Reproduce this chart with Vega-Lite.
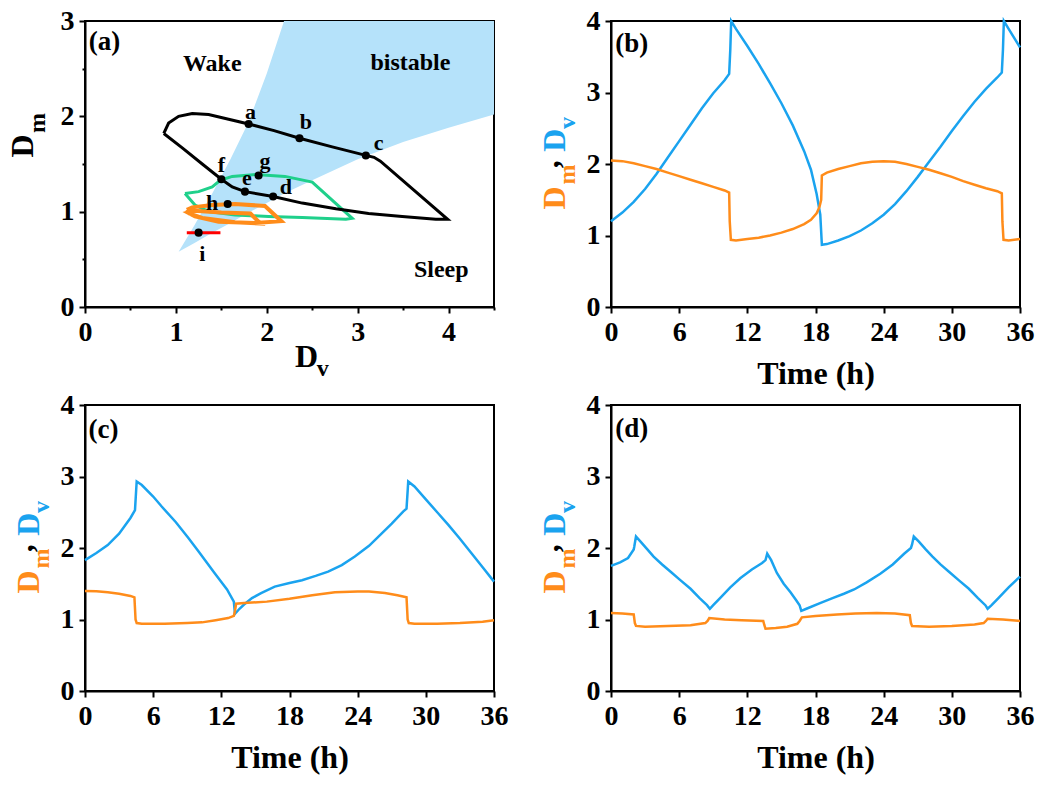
{
  "$schema": "https://vega.github.io/schema/vega-lite/v6.json",
  "padding": {"left": 6, "top": 6, "right": 5, "bottom": 5},
  "background": "white",
  "config": {
    "font": "Liberation Serif",
    "view": {"stroke": "black", "strokeWidth": 2},
    "axis": {
      "labelFont": "Liberation Serif", "labelFontSize": 28, "labelFontWeight": "bold", "labelColor": "black",
      "titleFont": "Liberation Serif", "titleFontSize": 32, "titleFontWeight": "bold", "titleColor": "black",
      "domainColor": "black", "domainWidth": 2, "tickColor": "black", "tickWidth": 2,
      "grid": false, "labelFlush": false, "labelPadding": 5, "labelOverlap": false
    }
  },
  "datasets": {
    "wedge": [
      {"x": 1.03, "lo": 0.58, "hi": 0.58},
      {"x": 1.2, "lo": 0.67, "hi": 0.85},
      {"x": 1.4, "lo": 0.78, "hi": 1.19},
      {"x": 1.6, "lo": 0.88, "hi": 1.55},
      {"x": 1.8, "lo": 0.99, "hi": 1.94},
      {"x": 2.0, "lo": 1.09, "hi": 2.45},
      {"x": 2.19, "lo": 1.19, "hi": 3.0},
      {"x": 2.5, "lo": 1.33, "hi": 3.0},
      {"x": 3.0, "lo": 1.55, "hi": 3.0},
      {"x": 3.5, "lo": 1.73, "hi": 3.0},
      {"x": 4.0, "lo": 1.88, "hi": 3.0},
      {"x": 4.5, "lo": 2.02, "hi": 3.0}
    ],
    "loops": [
      {"loop": "black", "i": 1, "x": 0.867, "y": 1.82},
      {"loop": "black", "i": 2, "x": 0.92, "y": 1.93},
      {"loop": "black", "i": 3, "x": 1.03, "y": 2.0},
      {"loop": "black", "i": 4, "x": 1.18, "y": 2.03},
      {"loop": "black", "i": 5, "x": 1.36, "y": 2.02},
      {"loop": "black", "i": 6, "x": 1.58, "y": 1.97},
      {"loop": "black", "i": 7, "x": 1.8, "y": 1.92},
      {"loop": "black", "i": 8, "x": 2.08, "y": 1.85},
      {"loop": "black", "i": 9, "x": 2.36, "y": 1.77},
      {"loop": "black", "i": 10, "x": 2.72, "y": 1.68},
      {"loop": "black", "i": 11, "x": 3.09, "y": 1.59},
      {"loop": "black", "i": 12, "x": 3.18, "y": 1.57},
      {"loop": "black", "i": 13, "x": 3.25, "y": 1.53},
      {"loop": "black", "i": 14, "x": 3.99, "y": 0.92},
      {"loop": "black", "i": 15, "x": 3.86, "y": 0.92},
      {"loop": "black", "i": 16, "x": 3.49, "y": 0.95},
      {"loop": "black", "i": 17, "x": 3.12, "y": 0.98},
      {"loop": "black", "i": 18, "x": 2.76, "y": 1.03},
      {"loop": "black", "i": 19, "x": 2.39, "y": 1.09},
      {"loop": "black", "i": 20, "x": 2.07, "y": 1.16},
      {"loop": "black", "i": 21, "x": 1.76, "y": 1.21},
      {"loop": "black", "i": 22, "x": 1.62, "y": 1.26},
      {"loop": "black", "i": 23, "x": 1.5, "y": 1.34},
      {"loop": "black", "i": 24, "x": 1.29, "y": 1.5},
      {"loop": "black", "i": 25, "x": 1.07, "y": 1.67},
      {"loop": "black", "i": 26, "x": 0.867, "y": 1.82},
      {"loop": "green", "i": 1, "x": 1.1, "y": 1.19},
      {"loop": "green", "i": 2, "x": 1.25, "y": 1.21},
      {"loop": "green", "i": 3, "x": 1.4, "y": 1.26},
      {"loop": "green", "i": 4, "x": 1.49, "y": 1.33},
      {"loop": "green", "i": 5, "x": 1.62, "y": 1.37},
      {"loop": "green", "i": 6, "x": 1.88, "y": 1.39},
      {"loop": "green", "i": 7, "x": 2.2, "y": 1.37},
      {"loop": "green", "i": 8, "x": 2.5, "y": 1.31},
      {"loop": "green", "i": 9, "x": 2.94, "y": 0.93},
      {"loop": "green", "i": 10, "x": 2.87, "y": 0.92},
      {"loop": "green", "i": 11, "x": 2.39, "y": 0.94},
      {"loop": "green", "i": 12, "x": 2.02, "y": 0.95},
      {"loop": "green", "i": 13, "x": 1.65, "y": 0.965},
      {"loop": "green", "i": 14, "x": 1.36, "y": 1.0},
      {"loop": "green", "i": 15, "x": 1.21, "y": 1.07},
      {"loop": "green", "i": 16, "x": 1.1, "y": 1.19},
      {"loop": "orange", "i": 1, "x": 1.12, "y": 1.02},
      {"loop": "orange", "i": 2, "x": 1.18, "y": 1.045},
      {"loop": "orange", "i": 3, "x": 1.4, "y": 1.07},
      {"loop": "orange", "i": 4, "x": 1.65, "y": 1.08},
      {"loop": "orange", "i": 5, "x": 1.98, "y": 1.06},
      {"loop": "orange", "i": 6, "x": 2.16, "y": 0.9},
      {"loop": "orange", "i": 7, "x": 1.87, "y": 0.88},
      {"loop": "orange", "i": 8, "x": 1.47, "y": 0.895},
      {"loop": "orange", "i": 9, "x": 1.21, "y": 0.95},
      {"loop": "orange", "i": 10, "x": 1.13, "y": 0.99},
      {"loop": "orange", "i": 11, "x": 1.2, "y": 1.01},
      {"loop": "orange", "i": 12, "x": 1.5, "y": 0.99},
      {"loop": "orange", "i": 13, "x": 1.82, "y": 0.98},
      {"loop": "orange", "i": 14, "x": 1.93, "y": 0.875},
      {"loop": "orange", "i": 15, "x": 1.65, "y": 0.89},
      {"loop": "orange", "i": 16, "x": 1.29, "y": 0.935},
      {"loop": "orange", "i": 17, "x": 1.15, "y": 0.98},
      {"loop": "orange", "i": 18, "x": 1.12, "y": 1.02},
      {"loop": "red", "i": 1, "x": 1.12, "y": 0.78},
      {"loop": "red", "i": 2, "x": 1.49, "y": 0.78}
    ],
    "pts": [
      {"id": "a", "x": 1.8, "y": 1.92, "lx": 1.82, "ly": 2.05},
      {"id": "b", "x": 2.36, "y": 1.77, "lx": 2.43, "ly": 1.94},
      {"id": "c", "x": 3.09, "y": 1.59, "lx": 3.23, "ly": 1.72},
      {"id": "d", "x": 2.07, "y": 1.16, "lx": 2.21, "ly": 1.26},
      {"id": "e", "x": 1.76, "y": 1.21, "lx": 1.78, "ly": 1.35},
      {"id": "f", "x": 1.5, "y": 1.34, "lx": 1.5, "ly": 1.49},
      {"id": "g", "x": 1.91, "y": 1.38, "lx": 1.98, "ly": 1.53},
      {"id": "h", "x": 1.57, "y": 1.08, "lx": 1.4, "ly": 1.09},
      {"id": "i", "x": 1.25, "y": 0.78, "lx": 1.29, "ly": 0.56}
    ],
    "regions": [
      {"txt": "Wake", "x": 1.4, "y": 2.55},
      {"txt": "bistable", "x": 3.58, "y": 2.56},
      {"txt": "Sleep", "x": 3.92, "y": 0.39}
    ],
    "plab": [
      {"p": "a", "txt": "(a)", "x": 0.04, "y": 2.78},
      {"p": "b", "txt": "(b)", "x": 0.38, "y": 3.68},
      {"p": "c", "txt": "(c)", "x": 0.3, "y": 3.65},
      {"p": "d", "txt": "(d)", "x": 0.38, "y": 3.66}
    ],
    "atty": [
      {"txt": "D", "kind": "main", "x": -0.569, "y": 1.568},
      {"txt": "m", "kind": "sub", "x": -0.441, "y": 1.824}
    ],
    "attx": [
      {"txt": "D", "kind": "main", "x": 2.31, "y": -0.632},
      {"txt": "v", "kind": "sub", "x": 2.55, "y": -0.726}
    ],
    "ytt": [
      {"txt": "D", "s": "Dm", "kind": "main", "x": -4.02, "y": 1.364},
      {"txt": "m", "s": "Dm", "kind": "sub", "x": -3.13, "y": 1.714},
      {"txt": ",", "s": "sep", "kind": "main", "x": -4.55, "y": 1.94},
      {"txt": "D", "s": "Dv", "kind": "main", "x": -4.02, "y": 2.17},
      {"txt": "v", "s": "Dv", "kind": "sub", "x": -3.13, "y": 2.49}
    ],
    "ts": [
      {"p":"b","s":"Dv","t":0,"v":1.2},{"p":"b","s":"Dv","t":1,"v":1.32},{"p":"b","s":"Dv","t":2,"v":1.47},{"p":"b","s":"Dv","t":3,"v":1.65},{"p":"b","s":"Dv","t":4,"v":1.86},{"p":"b","s":"Dv","t":5,"v":2.09},{"p":"b","s":"Dv","t":6,"v":2.32},{"p":"b","s":"Dv","t":7,"v":2.55},{"p":"b","s":"Dv","t":8,"v":2.78},{"p":"b","s":"Dv","t":9,"v":2.99},{"p":"b","s":"Dv","t":10,"v":3.17},{"p":"b","s":"Dv","t":10.4,"v":3.26},{"p":"b","s":"Dv","t":10.5,"v":3.6},{"p":"b","s":"Dv","t":10.58,"v":4.0},{"p":"b","s":"Dv","t":11,"v":3.89},{"p":"b","s":"Dv","t":12,"v":3.65},{"p":"b","s":"Dv","t":13,"v":3.4},{"p":"b","s":"Dv","t":14,"v":3.13},{"p":"b","s":"Dv","t":15,"v":2.85},{"p":"b","s":"Dv","t":16,"v":2.54},{"p":"b","s":"Dv","t":17,"v":2.18},{"p":"b","s":"Dv","t":17.6,"v":1.92},{"p":"b","s":"Dv","t":18.1,"v":1.58},{"p":"b","s":"Dv","t":18.42,"v":1.29},{"p":"b","s":"Dv","t":18.56,"v":0.87},{"p":"b","s":"Dv","t":19,"v":0.88},{"p":"b","s":"Dv","t":20,"v":0.93},{"p":"b","s":"Dv","t":21,"v":0.99},{"p":"b","s":"Dv","t":22,"v":1.07},{"p":"b","s":"Dv","t":23,"v":1.17},{"p":"b","s":"Dv","t":24,"v":1.29},{"p":"b","s":"Dv","t":25,"v":1.44},{"p":"b","s":"Dv","t":26,"v":1.62},{"p":"b","s":"Dv","t":27,"v":1.82},{"p":"b","s":"Dv","t":28,"v":2.03},{"p":"b","s":"Dv","t":29,"v":2.24},{"p":"b","s":"Dv","t":30,"v":2.46},{"p":"b","s":"Dv","t":31,"v":2.67},{"p":"b","s":"Dv","t":32,"v":2.87},{"p":"b","s":"Dv","t":33,"v":3.05},{"p":"b","s":"Dv","t":34,"v":3.21},{"p":"b","s":"Dv","t":34.4,"v":3.28},{"p":"b","s":"Dv","t":34.5,"v":3.6},{"p":"b","s":"Dv","t":34.58,"v":4.0},{"p":"b","s":"Dv","t":35,"v":3.89},{"p":"b","s":"Dv","t":36,"v":3.63},
      {"p":"b","s":"Dm","t":0,"v":2.05},{"p":"b","s":"Dm","t":1,"v":2.04},{"p":"b","s":"Dm","t":2,"v":2.01},{"p":"b","s":"Dm","t":3,"v":1.97},{"p":"b","s":"Dm","t":4,"v":1.93},{"p":"b","s":"Dm","t":5,"v":1.88},{"p":"b","s":"Dm","t":6,"v":1.83},{"p":"b","s":"Dm","t":7,"v":1.78},{"p":"b","s":"Dm","t":8,"v":1.73},{"p":"b","s":"Dm","t":9,"v":1.68},{"p":"b","s":"Dm","t":10,"v":1.63},{"p":"b","s":"Dm","t":10.4,"v":1.6},{"p":"b","s":"Dm","t":10.45,"v":1.2},{"p":"b","s":"Dm","t":10.55,"v":0.94},{"p":"b","s":"Dm","t":11,"v":0.93},{"p":"b","s":"Dm","t":12,"v":0.95},{"p":"b","s":"Dm","t":13,"v":0.97},{"p":"b","s":"Dm","t":14,"v":1.0},{"p":"b","s":"Dm","t":15,"v":1.04},{"p":"b","s":"Dm","t":16,"v":1.09},{"p":"b","s":"Dm","t":17,"v":1.16},{"p":"b","s":"Dm","t":17.6,"v":1.22},{"p":"b","s":"Dm","t":18.1,"v":1.31},{"p":"b","s":"Dm","t":18.35,"v":1.4},{"p":"b","s":"Dm","t":18.5,"v":1.5},{"p":"b","s":"Dm","t":18.56,"v":1.84},{"p":"b","s":"Dm","t":19,"v":1.88},{"p":"b","s":"Dm","t":20,"v":1.93},{"p":"b","s":"Dm","t":21,"v":1.97},{"p":"b","s":"Dm","t":22,"v":2.01},{"p":"b","s":"Dm","t":23,"v":2.03},{"p":"b","s":"Dm","t":24,"v":2.04},{"p":"b","s":"Dm","t":25,"v":2.03},{"p":"b","s":"Dm","t":26,"v":2.0},{"p":"b","s":"Dm","t":27,"v":1.96},{"p":"b","s":"Dm","t":28,"v":1.92},{"p":"b","s":"Dm","t":29,"v":1.87},{"p":"b","s":"Dm","t":30,"v":1.82},{"p":"b","s":"Dm","t":31,"v":1.76},{"p":"b","s":"Dm","t":32,"v":1.71},{"p":"b","s":"Dm","t":33,"v":1.66},{"p":"b","s":"Dm","t":34,"v":1.62},{"p":"b","s":"Dm","t":34.4,"v":1.59},{"p":"b","s":"Dm","t":34.45,"v":1.2},{"p":"b","s":"Dm","t":34.55,"v":0.94},{"p":"b","s":"Dm","t":35,"v":0.93},{"p":"b","s":"Dm","t":36,"v":0.95},
      {"p":"c","s":"Dv","t":0,"v":1.83},{"p":"c","s":"Dv","t":1,"v":1.93},{"p":"c","s":"Dv","t":2,"v":2.04},{"p":"c","s":"Dv","t":3,"v":2.2},{"p":"c","s":"Dv","t":4,"v":2.42},{"p":"c","s":"Dv","t":4.4,"v":2.53},{"p":"c","s":"Dv","t":4.5,"v":2.8},{"p":"c","s":"Dv","t":4.55,"v":2.93},{"p":"c","s":"Dv","t":5,"v":2.88},{"p":"c","s":"Dv","t":6,"v":2.72},{"p":"c","s":"Dv","t":6.75,"v":2.58},{"p":"c","s":"Dv","t":8,"v":2.36},{"p":"c","s":"Dv","t":9.1,"v":2.14},{"p":"c","s":"Dv","t":10,"v":1.95},{"p":"c","s":"Dv","t":11.4,"v":1.65},{"p":"c","s":"Dv","t":12.5,"v":1.42},{"p":"c","s":"Dv","t":13.1,"v":1.25},{"p":"c","s":"Dv","t":13.2,"v":1.08},{"p":"c","s":"Dv","t":13.6,"v":1.15},{"p":"c","s":"Dv","t":14,"v":1.21},{"p":"c","s":"Dv","t":14.7,"v":1.3},{"p":"c","s":"Dv","t":15.5,"v":1.37},{"p":"c","s":"Dv","t":16.7,"v":1.46},{"p":"c","s":"Dv","t":18,"v":1.51},{"p":"c","s":"Dv","t":19.1,"v":1.55},{"p":"c","s":"Dv","t":20.3,"v":1.61},{"p":"c","s":"Dv","t":21.4,"v":1.67},{"p":"c","s":"Dv","t":22.6,"v":1.76},{"p":"c","s":"Dv","t":23.75,"v":1.88},{"p":"c","s":"Dv","t":25,"v":2.03},{"p":"c","s":"Dv","t":26.1,"v":2.2},{"p":"c","s":"Dv","t":27,"v":2.34},{"p":"c","s":"Dv","t":28,"v":2.51},{"p":"c","s":"Dv","t":28.3,"v":2.55},{"p":"c","s":"Dv","t":28.4,"v":2.8},{"p":"c","s":"Dv","t":28.45,"v":2.93},{"p":"c","s":"Dv","t":29,"v":2.86},{"p":"c","s":"Dv","t":30,"v":2.68},{"p":"c","s":"Dv","t":31,"v":2.5},{"p":"c","s":"Dv","t":32,"v":2.32},{"p":"c","s":"Dv","t":33,"v":2.13},{"p":"c","s":"Dv","t":34,"v":1.93},{"p":"c","s":"Dv","t":35,"v":1.73},{"p":"c","s":"Dv","t":36,"v":1.53},
      {"p":"c","s":"Dm","t":0,"v":1.4},{"p":"c","s":"Dm","t":1,"v":1.395},{"p":"c","s":"Dm","t":2,"v":1.38},{"p":"c","s":"Dm","t":3,"v":1.36},{"p":"c","s":"Dm","t":4,"v":1.33},{"p":"c","s":"Dm","t":4.35,"v":1.31},{"p":"c","s":"Dm","t":4.45,"v":1.0},{"p":"c","s":"Dm","t":4.55,"v":0.95},{"p":"c","s":"Dm","t":5,"v":0.94},{"p":"c","s":"Dm","t":7,"v":0.94},{"p":"c","s":"Dm","t":9,"v":0.95},{"p":"c","s":"Dm","t":10.3,"v":0.96},{"p":"c","s":"Dm","t":11.5,"v":0.99},{"p":"c","s":"Dm","t":12.6,"v":1.02},{"p":"c","s":"Dm","t":13.1,"v":1.05},{"p":"c","s":"Dm","t":13.2,"v":1.12},{"p":"c","s":"Dm","t":13.3,"v":1.22},{"p":"c","s":"Dm","t":14,"v":1.23},{"p":"c","s":"Dm","t":16,"v":1.25},{"p":"c","s":"Dm","t":18,"v":1.29},{"p":"c","s":"Dm","t":20,"v":1.34},{"p":"c","s":"Dm","t":22,"v":1.38},{"p":"c","s":"Dm","t":24,"v":1.39},{"p":"c","s":"Dm","t":25,"v":1.39},{"p":"c","s":"Dm","t":26.4,"v":1.37},{"p":"c","s":"Dm","t":27.5,"v":1.34},{"p":"c","s":"Dm","t":28.3,"v":1.31},{"p":"c","s":"Dm","t":28.4,"v":1.0},{"p":"c","s":"Dm","t":28.5,"v":0.95},{"p":"c","s":"Dm","t":29,"v":0.94},{"p":"c","s":"Dm","t":31,"v":0.94},{"p":"c","s":"Dm","t":33,"v":0.95},{"p":"c","s":"Dm","t":35,"v":0.97},{"p":"c","s":"Dm","t":36,"v":0.99},
      {"p":"d","s":"Dv","t":0,"v":1.75},{"p":"d","s":"Dv","t":0.8,"v":1.8},{"p":"d","s":"Dv","t":1.5,"v":1.86},{"p":"d","s":"Dv","t":2.0,"v":1.98},{"p":"d","s":"Dv","t":2.05,"v":2.02},{"p":"d","s":"Dv","t":2.2,"v":2.16},{"p":"d","s":"Dv","t":2.6,"v":2.09},{"p":"d","s":"Dv","t":3.2,"v":1.98},{"p":"d","s":"Dv","t":3.75,"v":1.88},{"p":"d","s":"Dv","t":4.5,"v":1.77},{"p":"d","s":"Dv","t":5.3,"v":1.66},{"p":"d","s":"Dv","t":6.1,"v":1.55},{"p":"d","s":"Dv","t":7.0,"v":1.43},{"p":"d","s":"Dv","t":7.8,"v":1.3},{"p":"d","s":"Dv","t":8.45,"v":1.2},{"p":"d","s":"Dv","t":8.7,"v":1.15},{"p":"d","s":"Dv","t":9.0,"v":1.2},{"p":"d","s":"Dv","t":9.6,"v":1.3},{"p":"d","s":"Dv","t":10.5,"v":1.45},{"p":"d","s":"Dv","t":11.4,"v":1.58},{"p":"d","s":"Dv","t":12.4,"v":1.7},{"p":"d","s":"Dv","t":13.3,"v":1.79},{"p":"d","s":"Dv","t":13.6,"v":1.83},{"p":"d","s":"Dv","t":13.75,"v":1.92},{"p":"d","s":"Dv","t":14.1,"v":1.83},{"p":"d","s":"Dv","t":14.6,"v":1.65},{"p":"d","s":"Dv","t":15.2,"v":1.5},{"p":"d","s":"Dv","t":15.8,"v":1.38},{"p":"d","s":"Dv","t":16.3,"v":1.27},{"p":"d","s":"Dv","t":16.6,"v":1.2},{"p":"d","s":"Dv","t":16.75,"v":1.12},{"p":"d","s":"Dv","t":17.2,"v":1.15},{"p":"d","s":"Dv","t":18.4,"v":1.23},{"p":"d","s":"Dv","t":19.5,"v":1.3},{"p":"d","s":"Dv","t":20.5,"v":1.36},{"p":"d","s":"Dv","t":21.4,"v":1.42},{"p":"d","s":"Dv","t":22.5,"v":1.52},{"p":"d","s":"Dv","t":23.7,"v":1.64},{"p":"d","s":"Dv","t":24.8,"v":1.77},{"p":"d","s":"Dv","t":25.8,"v":1.92},{"p":"d","s":"Dv","t":26.4,"v":2.0},{"p":"d","s":"Dv","t":26.5,"v":2.05},{"p":"d","s":"Dv","t":26.65,"v":2.16},{"p":"d","s":"Dv","t":27.1,"v":2.09},{"p":"d","s":"Dv","t":27.7,"v":1.98},{"p":"d","s":"Dv","t":28.3,"v":1.88},{"p":"d","s":"Dv","t":29,"v":1.77},{"p":"d","s":"Dv","t":29.8,"v":1.66},{"p":"d","s":"Dv","t":30.6,"v":1.55},{"p":"d","s":"Dv","t":31.5,"v":1.43},{"p":"d","s":"Dv","t":32.3,"v":1.3},{"p":"d","s":"Dv","t":32.95,"v":1.2},{"p":"d","s":"Dv","t":33.15,"v":1.15},{"p":"d","s":"Dv","t":33.5,"v":1.2},{"p":"d","s":"Dv","t":34.1,"v":1.3},{"p":"d","s":"Dv","t":35,"v":1.45},{"p":"d","s":"Dv","t":36,"v":1.6},
      {"p":"d","s":"Dm","t":0,"v":1.09},{"p":"d","s":"Dm","t":1,"v":1.085},{"p":"d","s":"Dm","t":2.0,"v":1.07},{"p":"d","s":"Dm","t":2.1,"v":0.95},{"p":"d","s":"Dm","t":2.2,"v":0.91},{"p":"d","s":"Dm","t":3,"v":0.9},{"p":"d","s":"Dm","t":5,"v":0.91},{"p":"d","s":"Dm","t":7,"v":0.92},{"p":"d","s":"Dm","t":8.3,"v":0.95},{"p":"d","s":"Dm","t":8.5,"v":0.98},{"p":"d","s":"Dm","t":8.65,"v":1.02},{"p":"d","s":"Dm","t":10,"v":1.0},{"p":"d","s":"Dm","t":11.5,"v":0.99},{"p":"d","s":"Dm","t":13.4,"v":0.98},{"p":"d","s":"Dm","t":13.5,"v":0.92},{"p":"d","s":"Dm","t":13.6,"v":0.87},{"p":"d","s":"Dm","t":14.5,"v":0.88},{"p":"d","s":"Dm","t":15.5,"v":0.9},{"p":"d","s":"Dm","t":16.4,"v":0.94},{"p":"d","s":"Dm","t":16.6,"v":0.98},{"p":"d","s":"Dm","t":16.8,"v":1.03},{"p":"d","s":"Dm","t":18,"v":1.05},{"p":"d","s":"Dm","t":19.9,"v":1.07},{"p":"d","s":"Dm","t":21.5,"v":1.085},{"p":"d","s":"Dm","t":23.4,"v":1.09},{"p":"d","s":"Dm","t":25,"v":1.085},{"p":"d","s":"Dm","t":26.3,"v":1.06},{"p":"d","s":"Dm","t":26.4,"v":0.95},{"p":"d","s":"Dm","t":26.5,"v":0.91},{"p":"d","s":"Dm","t":28,"v":0.9},{"p":"d","s":"Dm","t":30,"v":0.91},{"p":"d","s":"Dm","t":32,"v":0.93},{"p":"d","s":"Dm","t":32.8,"v":0.95},{"p":"d","s":"Dm","t":33.0,"v":0.98},{"p":"d","s":"Dm","t":33.15,"v":1.01},{"p":"d","s":"Dm","t":34.5,"v":1.0},{"p":"d","s":"Dm","t":36,"v":0.98}
    ]
  },
  "columns": 2,
  "spacing": {"row": 98, "column": 117},
  "bounds": "flush",
  "concat": [
    {
      "width": 409, "height": 286,
      "layer": [
        {"data": {"name": "wedge"}, "mark": {"type": "area", "color": "#b5e2fa", "opacity": 1},
         "encoding": {
           "x": {"field": "x", "type": "quantitative", "scale": {"domain": [0, 4.5], "nice": false, "zero": false},
                 "axis": {"values": [0, 0.5, 1, 1.5, 2, 2.5, 3, 3.5, 4, 4.5], "labelExpr": "datum.value % 1 === 0 ? format(datum.value, 'd') : ''", "tickSize": {"condition": {"test": "datum.value % 1 !== 0", "value": 3}, "value": 6}, "title": null}},
           "y": {"field": "lo", "type": "quantitative", "scale": {"domain": [0, 3], "nice": false, "zero": false},
                 "axis": {"values": [0, 0.5, 1, 1.5, 2, 2.5, 3], "labelExpr": "datum.value % 1 === 0 ? format(datum.value, 'd') : ''", "tickSize": {"condition": {"test": "datum.value % 1 !== 0", "value": 3}, "value": 6}, "title": null}},
           "y2": {"field": "hi"}
         }},
        {"data": {"name": "loops"}, "transform": [{"filter": "datum.loop === 'green'"}], "mark": {"type": "line", "color": "#1fd08b", "strokeWidth": 3},
         "encoding": {"x": {"field": "x", "type": "quantitative"}, "y": {"field": "y", "type": "quantitative"}, "order": {"field": "i", "type": "quantitative"}}},
        {"data": {"name": "loops"}, "transform": [{"filter": "datum.loop === 'orange'"}], "mark": {"type": "line", "color": "#ff8c1a", "strokeWidth": 4},
         "encoding": {"x": {"field": "x", "type": "quantitative"}, "y": {"field": "y", "type": "quantitative"}, "order": {"field": "i", "type": "quantitative"}}},
        {"data": {"name": "loops"}, "transform": [{"filter": "datum.loop === 'black'"}], "mark": {"type": "line", "color": "#000000", "strokeWidth": 3},
         "encoding": {"x": {"field": "x", "type": "quantitative"}, "y": {"field": "y", "type": "quantitative"}, "order": {"field": "i", "type": "quantitative"}}},
        {"data": {"name": "loops"}, "transform": [{"filter": "datum.loop === 'red'"}], "mark": {"type": "line", "color": "#ff0000", "strokeWidth": 3},
         "encoding": {"x": {"field": "x", "type": "quantitative"}, "y": {"field": "y", "type": "quantitative"}, "order": {"field": "i", "type": "quantitative"}}},
        {"data": {"name": "pts"}, "mark": {"type": "circle", "color": "black", "size": 65, "opacity": 1},
         "encoding": {"x": {"field": "x", "type": "quantitative"}, "y": {"field": "y", "type": "quantitative"}}},
        {"data": {"name": "pts"}, "mark": {"type": "text", "font": "Liberation Serif", "fontSize": 22, "fontWeight": "bold", "color": "black", "align": "center", "baseline": "middle"},
         "encoding": {"x": {"field": "lx", "type": "quantitative"}, "y": {"field": "ly", "type": "quantitative"}, "text": {"field": "id"}}},
        {"data": {"name": "regions"}, "mark": {"type": "text", "font": "Liberation Serif", "fontSize": 24, "fontWeight": "bold", "color": "black", "align": "center", "baseline": "middle"},
         "encoding": {"x": {"field": "x", "type": "quantitative"}, "y": {"field": "y", "type": "quantitative"}, "text": {"field": "txt"}}},
        {"data": {"name": "plab"}, "transform": [{"filter": "datum.p === 'a'"}], "mark": {"type": "text", "font": "Liberation Serif", "fontSize": 27, "fontWeight": "bold", "color": "black", "align": "left", "baseline": "middle"},
         "encoding": {"x": {"field": "x", "type": "quantitative"}, "y": {"field": "y", "type": "quantitative"}, "text": {"field": "txt"}}},
        {"data": {"name": "atty"}, "mark": {"type": "text", "font": "Liberation Serif", "fontWeight": "bold", "color": "black", "align": "left", "baseline": "alphabetic", "angle": 270},
         "encoding": {"x": {"field": "x", "type": "quantitative"}, "y": {"field": "y", "type": "quantitative"}, "text": {"field": "txt"},
                      "size": {"field": "kind", "type": "ordinal", "scale": {"domain": ["main", "sub"], "range": [32, 24]}, "legend": null}}},
        {"data": {"name": "attx"}, "mark": {"type": "text", "font": "Liberation Serif", "fontWeight": "bold", "color": "black", "align": "left", "baseline": "alphabetic"},
         "encoding": {"x": {"field": "x", "type": "quantitative"}, "y": {"field": "y", "type": "quantitative"}, "text": {"field": "txt"},
                      "size": {"field": "kind", "type": "ordinal", "scale": {"domain": ["main", "sub"], "range": [32, 24]}, "legend": null}}}
      ]
    },
    {
      "width": 409, "height": 286,
      "layer": [
        {"data": {"name": "ts"}, "transform": [{"filter": "datum.p === 'b'"}], "mark": {"type": "line", "strokeWidth": 2.5},
         "encoding": {
           "x": {"field": "t", "type": "quantitative", "scale": {"domain": [0, 36], "nice": false, "zero": false},
                 "axis": {"values": [0, 3, 6, 9, 12, 15, 18, 21, 24, 27, 30, 33, 36], "labelExpr": "datum.value % 6 === 0 ? format(datum.value, 'd') : ''", "tickSize": {"condition": {"test": "datum.value % 6 !== 0", "value": 3}, "value": 6}, "title": "Time (h)", "titlePadding": 12}},
           "y": {"field": "v", "type": "quantitative", "scale": {"domain": [0, 4], "nice": false, "zero": false},
                 "axis": {"values": [0, 0.5, 1, 1.5, 2, 2.5, 3, 3.5, 4], "labelExpr": "datum.value % 1 === 0 ? format(datum.value, 'd') : ''", "tickSize": {"condition": {"test": "datum.value % 1 !== 0", "value": 3}, "value": 6}, "title": null}},
           "color": {"field": "s", "type": "nominal", "scale": {"domain": ["Dm", "Dv", "sep"], "range": ["#ff8c1a", "#1aa3ef", "#000000"]}, "legend": null}
         }},
        {"data": {"name": "plab"}, "transform": [{"filter": "datum.p === 'b'"}], "mark": {"type": "text", "font": "Liberation Serif", "fontSize": 27, "fontWeight": "bold", "color": "black", "align": "left", "baseline": "middle"},
         "encoding": {"x": {"field": "x", "type": "quantitative"}, "y": {"field": "y", "type": "quantitative"}, "text": {"field": "txt"}}},
        {"data": {"name": "ytt"}, "mark": {"type": "text", "font": "Liberation Serif", "fontWeight": "bold", "align": "left", "baseline": "alphabetic", "angle": 270},
         "encoding": {"x": {"field": "x", "type": "quantitative"}, "y": {"field": "y", "type": "quantitative"}, "text": {"field": "txt"},
                      "color": {"field": "s", "type": "nominal", "legend": null},
                      "size": {"field": "kind", "type": "ordinal", "scale": {"domain": ["main", "sub"], "range": [32, 22]}, "legend": null}}}
      ]
    },
    {
      "width": 409, "height": 286,
      "layer": [
        {"data": {"name": "ts"}, "transform": [{"filter": "datum.p === 'c'"}], "mark": {"type": "line", "strokeWidth": 2.5},
         "encoding": {
           "x": {"field": "t", "type": "quantitative", "scale": {"domain": [0, 36], "nice": false, "zero": false},
                 "axis": {"values": [0, 3, 6, 9, 12, 15, 18, 21, 24, 27, 30, 33, 36], "labelExpr": "datum.value % 6 === 0 ? format(datum.value, 'd') : ''", "tickSize": {"condition": {"test": "datum.value % 6 !== 0", "value": 3}, "value": 6}, "title": "Time (h)", "titlePadding": 12}},
           "y": {"field": "v", "type": "quantitative", "scale": {"domain": [0, 4], "nice": false, "zero": false},
                 "axis": {"values": [0, 0.5, 1, 1.5, 2, 2.5, 3, 3.5, 4], "labelExpr": "datum.value % 1 === 0 ? format(datum.value, 'd') : ''", "tickSize": {"condition": {"test": "datum.value % 1 !== 0", "value": 3}, "value": 6}, "title": null}},
           "color": {"field": "s", "type": "nominal", "scale": {"domain": ["Dm", "Dv", "sep"], "range": ["#ff8c1a", "#1aa3ef", "#000000"]}, "legend": null}
         }},
        {"data": {"name": "plab"}, "transform": [{"filter": "datum.p === 'c'"}], "mark": {"type": "text", "font": "Liberation Serif", "fontSize": 27, "fontWeight": "bold", "color": "black", "align": "left", "baseline": "middle"},
         "encoding": {"x": {"field": "x", "type": "quantitative"}, "y": {"field": "y", "type": "quantitative"}, "text": {"field": "txt"}}},
        {"data": {"name": "ytt"}, "mark": {"type": "text", "font": "Liberation Serif", "fontWeight": "bold", "align": "left", "baseline": "alphabetic", "angle": 270},
         "encoding": {"x": {"field": "x", "type": "quantitative"}, "y": {"field": "y", "type": "quantitative"}, "text": {"field": "txt"},
                      "color": {"field": "s", "type": "nominal", "legend": null},
                      "size": {"field": "kind", "type": "ordinal", "scale": {"domain": ["main", "sub"], "range": [32, 22]}, "legend": null}}}
      ]
    },
    {
      "width": 409, "height": 286,
      "layer": [
        {"data": {"name": "ts"}, "transform": [{"filter": "datum.p === 'd'"}], "mark": {"type": "line", "strokeWidth": 2.5},
         "encoding": {
           "x": {"field": "t", "type": "quantitative", "scale": {"domain": [0, 36], "nice": false, "zero": false},
                 "axis": {"values": [0, 3, 6, 9, 12, 15, 18, 21, 24, 27, 30, 33, 36], "labelExpr": "datum.value % 6 === 0 ? format(datum.value, 'd') : ''", "tickSize": {"condition": {"test": "datum.value % 6 !== 0", "value": 3}, "value": 6}, "title": "Time (h)", "titlePadding": 12}},
           "y": {"field": "v", "type": "quantitative", "scale": {"domain": [0, 4], "nice": false, "zero": false},
                 "axis": {"values": [0, 0.5, 1, 1.5, 2, 2.5, 3, 3.5, 4], "labelExpr": "datum.value % 1 === 0 ? format(datum.value, 'd') : ''", "tickSize": {"condition": {"test": "datum.value % 1 !== 0", "value": 3}, "value": 6}, "title": null}},
           "color": {"field": "s", "type": "nominal", "scale": {"domain": ["Dm", "Dv", "sep"], "range": ["#ff8c1a", "#1aa3ef", "#000000"]}, "legend": null}
         }},
        {"data": {"name": "plab"}, "transform": [{"filter": "datum.p === 'd'"}], "mark": {"type": "text", "font": "Liberation Serif", "fontSize": 27, "fontWeight": "bold", "color": "black", "align": "left", "baseline": "middle"},
         "encoding": {"x": {"field": "x", "type": "quantitative"}, "y": {"field": "y", "type": "quantitative"}, "text": {"field": "txt"}}},
        {"data": {"name": "ytt"}, "mark": {"type": "text", "font": "Liberation Serif", "fontWeight": "bold", "align": "left", "baseline": "alphabetic", "angle": 270},
         "encoding": {"x": {"field": "x", "type": "quantitative"}, "y": {"field": "y", "type": "quantitative"}, "text": {"field": "txt"},
                      "color": {"field": "s", "type": "nominal", "legend": null},
                      "size": {"field": "kind", "type": "ordinal", "scale": {"domain": ["main", "sub"], "range": [32, 22]}, "legend": null}}}
      ]
    }
  ]
}
